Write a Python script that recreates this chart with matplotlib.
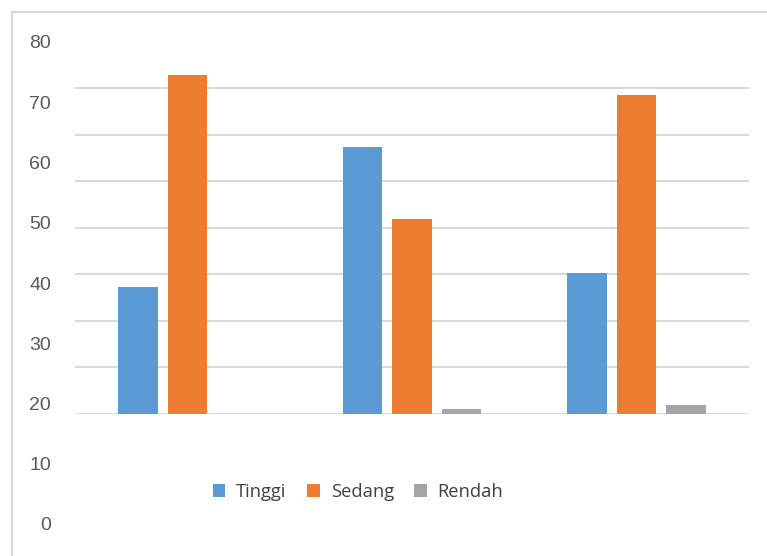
import numpy as np
import matplotlib
matplotlib.use("Agg")
import matplotlib.pyplot as plt
from matplotlib.patches import Rectangle

# data per group (three groups, no category names shown)
groups = ["", "", ""]
tinggi = [27.2, 57.4, 30.2]
sedang = [72.9, 41.8, 68.6]
rendah = [0.0, 1.0, 1.8]
series_names = ["Tinggi", "Sedang", "Rendah"]
colors = ["#5b9bd5", "#ed7d31", "#a5a5a5"]
axis_labels = [0, 10, 20, 30, 40, 50, 60, 70, 80]

W, H = 767, 556
fig = plt.figure(figsize=(W / 100, H / 100), dpi=100)
fig.patch.set_facecolor("white")

# light frame around the chart area (runs off the right and bottom edges)
fig.patches.append(Rectangle((11.5 / W, -0.2), 1.2, 1.2 - 12 / H, transform=fig.transFigure,
                             fill=False, edgecolor="#d9d9d9", linewidth=1.6, zorder=0))

# plot area
ax = fig.add_axes([75 / W, 1 - 413.5 / H, 674 / W, 371.7 / H])
x = np.arange(len(groups))
width = 0.176
offset = 0.22
for i, (vals, name) in enumerate(zip([tinggi, sedang, rendah], series_names)):
    ax.bar(x + (i - 1) * offset, vals, width, color=colors[i], label=name, zorder=3)

ax.set_xlim(-0.5, 2.5)
ax.set_ylim(0, 80)
ax.set_yticks(np.arange(0, 80, 10))
ax.yaxis.grid(True, color="#d9d9d9", linewidth=1.4)
ax.set_axisbelow(True)
ax.tick_params(left=False, bottom=False, labelleft=False, labelbottom=False)
for s in ax.spines.values():
    s.set_visible(False)

# value scale drawn on its own axes
lab = fig.add_axes([0, 1 - 526 / H, 51 / W, 482 / H])
lab.set_ylim(0, 80)
lab.set_xlim(0, 1)
lab.axis("off")
for v in axis_labels:
    lab.text(1, v, str(v), ha="right", va="center", fontsize=14,
             family="Liberation Sans", color="#595959")

h, l = ax.get_legend_handles_labels()
fig.legend(h, l, loc="center", bbox_to_anchor=(358 / W, 1 - 492 / H), ncol=3,
           frameon=False, prop={"family": "Open Sans", "size": 13.2},
           handlelength=0.7, handleheight=0.7, handletextpad=0.6, columnspacing=1.1,
           labelcolor="#404040")

fig.savefig("out.png", dpi=100)
